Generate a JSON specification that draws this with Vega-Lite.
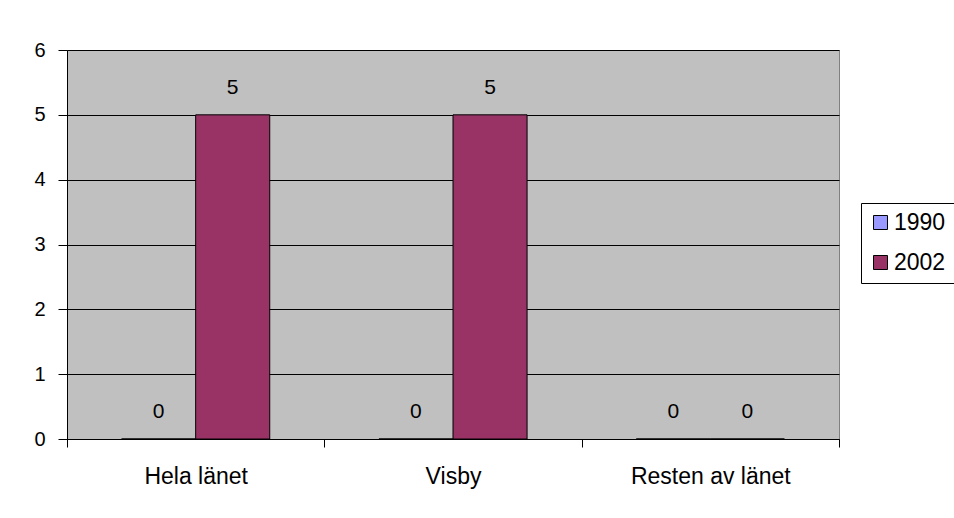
{
  "$schema": "https://vega.github.io/schema/vega-lite/v6.json",
  "autosize": "none",
  "width": 772,
  "height": 389,
  "padding": {"left": 67, "top": 50, "right": 115, "bottom": 79},
  "background": "white",
  "config": {
    "view": {"fill": "#C0C0C0", "stroke": "#808080", "strokeWidth": 1},
    "font": "Liberation Sans"
  },
  "data": {
    "values": [
      {"omrade": "Hela länet", "ar": "1990", "antal": 0},
      {"omrade": "Hela länet", "ar": "2002", "antal": 5},
      {"omrade": "Visby", "ar": "1990", "antal": 0},
      {"omrade": "Visby", "ar": "2002", "antal": 5},
      {"omrade": "Resten av länet", "ar": "1990", "antal": 0},
      {"omrade": "Resten av länet", "ar": "2002", "antal": 0}
    ]
  },
  "encoding": {
    "x": {
      "field": "omrade",
      "type": "nominal",
      "sort": ["Hela länet", "Visby", "Resten av länet"],
      "scale": {"paddingInner": 0, "paddingOuter": 0},
      "axis": {
        "title": null,
        "labelAngle": 0,
        "tickBand": "extent",
        "tickSize": 8,
        "tickColor": "black",
        "domainColor": "black",
        "labelFontSize": 23,
        "labelColor": "black",
        "labelPadding": 18,
        "grid": false
      }
    },
    "xOffset": {
      "field": "ar",
      "type": "nominal",
      "scale": {"paddingInner": 0, "paddingOuter": 0.737}
    },
    "y": {
      "field": "antal",
      "type": "quantitative",
      "scale": {"domain": [0, 6], "nice": false},
      "axis": {
        "title": null,
        "values": [0, 1, 2, 3, 4, 5, 6],
        "tickSize": 9,
        "tickColor": "black",
        "domainColor": "black",
        "gridColor": "black",
        "gridOpacity": 1,
        "labelFontSize": 20,
        "labelColor": "black",
        "labelPadding": 13
      }
    }
  },
  "layer": [
    {
      "mark": {"type": "bar", "stroke": "black", "strokeWidth": 1},
      "encoding": {
        "color": {
          "field": "ar",
          "type": "nominal",
          "scale": {"domain": ["1990", "2002"], "range": ["#9999FF", "#993366"]},
          "legend": {
            "title": null,
            "orient": "none",
            "legendX": 794,
            "legendY": 153,
            "strokeColor": "black",
            "fillColor": "white",
            "padding": 8,
            "symbolType": "square",
            "symbolSize": 196,
            "symbolOffset": 0,
            "symbolStrokeColor": "black",
            "symbolStrokeWidth": 1,
            "symbolOpacity": 1,
            "labelFontSize": 23,
            "labelColor": "black",
            "labelOffset": 2,
            "rowPadding": 16
          }
        }
      }
    },
    {
      "mark": {"type": "text", "baseline": "middle", "dy": -27, "fontSize": 21, "color": "black"},
      "encoding": {"text": {"field": "antal", "type": "quantitative"}}
    }
  ]
}
